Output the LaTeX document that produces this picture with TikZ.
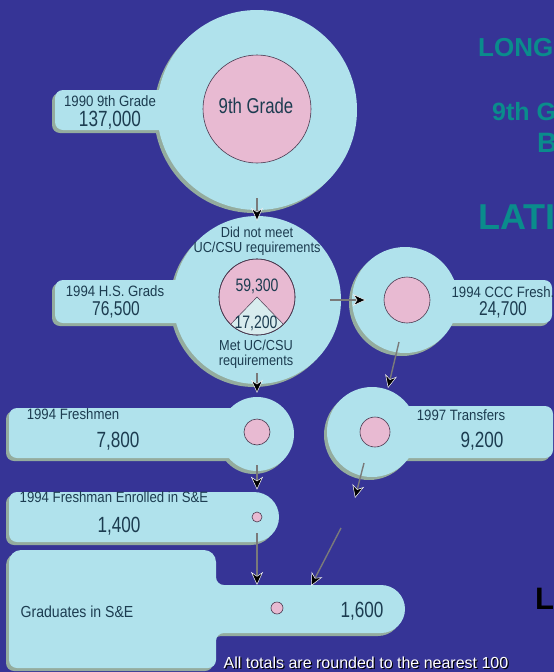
\documentclass[tikz,border=0pt]{standalone}
\usepackage{fontspec}
\setmainfont{Liberation Sans}
\newfontfamily\narrowfont{Liberation Sans}[FakeStretch=0.78]
\newfontfamily\labelfont{Liberation Sans}[FakeStretch=0.88]
\usetikzlibrary{arrows.meta,calc}
\definecolor{bgc}{HTML}{363496}
\definecolor{lbc}{HTML}{B0E2EC}
\definecolor{shc}{HTML}{94AC9E}
\definecolor{pkc}{HTML}{E8BAD2}
\definecolor{pkline}{HTML}{4A3A50}
\definecolor{wedgec}{HTML}{D8ECEE}
\definecolor{txc}{HTML}{1C3C50}
\definecolor{tealc}{HTML}{0A8C8C}
\definecolor{linec}{HTML}{7A7A7A}
\newcommand\fsz[1]{\fontsize{#1}{#1}\selectfont}
\newcommand\withshadow[1]{\begin{scope}[fill=shc,shift={(-3,3)}]#1\end{scope}\begin{scope}[fill=lbc]#1\end{scope}}
\begin{document}
\begin{tikzpicture}[x=1pt,y=-1pt,
  ring/.style={circle,inner sep=0,draw=none},
  pinkdot/.style={circle,inner sep=0,fill=pkc,draw=pkline,line width=0.6pt},
  lab/.style={text=txc,inner sep=0,anchor=base,font=\labelfont\fsz{15}},
  twoline/.style={text=txc,inner sep=0,align=center,font=\labelfont\fontsize{14.5}{14.5}\selectfont},
  num/.style={text=txc,inner sep=0,anchor=base,font=\narrowfont\fsz{#1}},
  side/.style={inner sep=0,anchor=base west,font=\bfseries\fsz{#1}},
  arr/.style={draw=linec,line width=1.4pt,-{Stealth[length=13pt,width=12pt,inset=4pt,color=white,fill=black,line width=0.5pt]}}]
\useasboundingbox (0,0) rectangle (554,672);
\clip (0,0) rectangle (554,672);
\fill[bgc] (0,0) rectangle (554,672);

% shapes
\withshadow{\fill (257,110) circle[radius=100]; \fill[rounded corners=8] (55,90) rectangle (180,130);}
\withshadow{\fill (257,300) circle[radius=84]; \fill[rounded corners=8] (55,280) rectangle (200,323);}
\withshadow{\fill (405,300) circle[radius=53]; \fill[rounded corners=8] (420,280) rectangle (552,323);}
\withshadow{\fill (257,434) circle[radius=37]; \fill[rounded corners=8] (9,408) rectangle (250,458);}
\withshadow{\fill (372,432) circle[radius=45]; \fill[rounded corners=8] (390,406) rectangle (553,458);}
\withshadow{\fill (17,492) -- (254,492) arc[start angle=-90,end angle=90,radius=25] -- (17,542)
   arc[start angle=90,end angle=180,radius=8] -- (9,500) arc[start angle=180,end angle=270,radius=8] -- cycle;}
\withshadow{\fill (21,550) -- (204,550) arc[start angle=-90,end angle=0,radius=12] -- (216,577)
   arc[start angle=180,end angle=90,radius=8] -- (381,585) arc[start angle=-90,end angle=90,radius=24]
   -- (224,633) arc[start angle=-90,end angle=-180,radius=8] -- (216,660)
   arc[start angle=0,end angle=90,radius=8] -- (17,668) arc[start angle=90,end angle=180,radius=8]
   -- (9,562) arc[start angle=180,end angle=270,radius=12] -- cycle;}

% ring nodes
\node[ring,minimum size=200pt] (c1) at (257,110) {};
\node[ring,minimum size=168pt] (c2) at (257,300) {};
\node[ring,minimum size=106pt] (c3) at (405,300) {};
\node[ring,minimum size=74pt] (c4) at (257,434) {};
\node[ring,minimum size=90pt] (c5) at (372,432) {};

% pink dots
\node[pinkdot,minimum size=108pt] (p1) at (257,109) {};
\node[pinkdot,minimum size=76pt] (p2) at (257,297) {};
\fill[wedgec,draw=pkline,line width=0.5pt] (p2.center) -- ++(46:38) arc[start angle=46,end angle=134,radius=38] -- cycle;
\draw[pkline,line width=0.6pt] (p2.center) circle[radius=38];
\node[pinkdot,minimum size=46pt] (p3) at (407,300) {};
\node[pinkdot,minimum size=26pt] (p4) at (257,432) {};
\node[pinkdot,minimum size=30pt] (p5) at (375,432) {};
\node[pinkdot,minimum size=10pt] (p6) at (257,517) {};
\node[pinkdot,minimum size=12pt] (p7) at (277,608) {};

% texts
\node[lab] (l1a) at (110,106) {1990 9th Grade};
\node[num=22] (l1b) at (110,126) {137,000};
\node[num=21.5] (l1c) at (256,113) {9th Grade};
\node[twoline] (l2a) at (257,241) {Did not meet\\UC/CSU requirements};
\node[lab] (l2c) at (115,296) {1994 H.S. Grads};
\node[num=20] (l2d) at (116,315) {76,500};
\node[num=18] (l2e) at (257,291) {59,300};
\node[num=18] (l2f) at (256,328) {17,200};
\node[twoline] (l2g) at (256,354) {Met UC/CSU\\requirements};
\node[lab] (l3a) at (503,297) {1994 CCC Fresh.};
\node[num=20] (l3b) at (503,315) {24,700};
\node[lab] (l4a) at (73,419) {1994 Freshmen};
\node[num=22] (l4b) at (118,447) {7,800};
\node[lab] (l5a) at (461,420) {1997 Transfers};
\node[num=22] (l5b) at (482,447) {9,200};
\node[lab] (l6a) at (114,502) {1994 Freshman Enrolled in S\&E};
\node[num=22] (l6b) at (119,532) {1,400};
\node[lab,font=\labelfont\fsz{16}] (l7a) at (77,617) {Graduates in S\&E};
\node[num=22] (l7b) at (362,617) {1,600};

% footnote
\node[inner sep=0,anchor=base,text=black,font=\fsz{16}] (fb) at (367.2,669.2) {All totals are rounded to the nearest 100};
\node[inner sep=0,anchor=base,text=white,font=\fsz{16}] (fw) at (366,668) {All totals are rounded to the nearest 100};

% side texts (cut at edge)
\node[side=26,text=tealc] (r1) at (478,56) {LONG};
\node[side=25,text=tealc] (r2) at (492,120) {9th G};
\node[side=28,text=tealc] (r3) at (537,152) {B};
\node[side=36,text=tealc] (r4) at (478,229) {LATI};
\node[side=31,text=black] (r5) at (535,609) {L};

% connectors
\coordinate (t6) at (355,498);
\coordinate (g7) at (257,585);
\coordinate (t8) at (341,528);
\draw[arr] ([yshift=12pt]c1.south) -- ([yshift=-5pt]c2.north);
\draw[arr] ([xshift=-11pt]c2.east) -- ([xshift=14pt]c3.west);
\draw[arr] ($(c3.center)+(-6,42)$) -- ($(c5.center)+(16,-44)$);
\draw[arr] ([yshift=11pt]c2.south) -- ([yshift=4pt]c4.north);
\draw[arr] ([yshift=6pt]c4.south) -- ([yshift=22pt]p6.north);
\draw[arr] ($(c5.center)+(-8,31)$) -- (t6);
\draw[arr] ([yshift=-11pt]p6.south) -- (g7);
\draw[arr] (t8) -- ($(p7.center)+(34,-22)$);
\end{tikzpicture}
\end{document}
